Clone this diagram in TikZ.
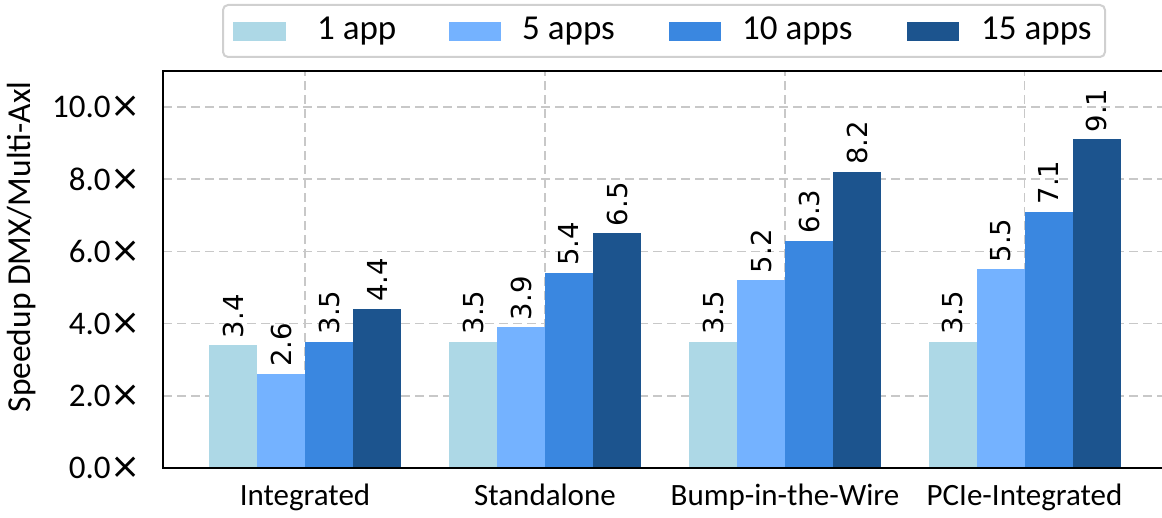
\documentclass[tikz,border=0pt]{standalone}
\usepackage{fontspec}
\setmainfont{Carlito}
\newfontfamily\dvs{DejaVu Sans}
\definecolor{cA}{HTML}{ADD8E6}
\definecolor{cB}{HTML}{74B2FF}
\definecolor{cC}{HTML}{3A87E0}
\definecolor{cD}{HTML}{1C548E}
\definecolor{gridc}{HTML}{C8C8C8}
\definecolor{legc}{HTML}{D0D0D0}
\begin{document}
\begin{tikzpicture}[x=1pt,y=1pt,
  gridline/.style={draw=gridc,line width=1.5pt,dash pattern=on 9pt off 5pt},
  spine/.style={draw=black,line width=2pt},
  vlab/.style={rotate=90,anchor=west,inner sep=0pt,font=\dvs\fontsize{27.5}{30}\selectfont},
  ytl/.style={anchor=east,inner sep=0pt,font=\fontsize{33}{36}\selectfont},
  xtl/.style={anchor=base,inner sep=0pt,font=\fontsize{31}{34}\selectfont},
  legtxt/.style={anchor=base west,inner sep=0pt,font=\fontsize{35}{38}\selectfont},
  legbox/.style={draw=legc,line width=2pt,fill=white,rounded corners=5pt}]
\useasboundingbox (0,0) rectangle (1162,517);
% grid
\foreach \v in {2,4,6,8,10} \draw[gridline] (163,{49+36.1*\v}) -- (1162,{49+36.1*\v});
\foreach \c in {305,545,785,1024.5} \draw[gridline] (\c,49) -- (\c,446);
% bars and value labels
\foreach \c/\a/\b/\cc/\d [count=\i] in {305/3.4/2.6/3.5/4.4, 545/3.5/3.9/5.4/6.5, 785/3.5/5.2/6.3/8.2, 1024.5/3.5/5.5/7.1/9.1}{
  \foreach \k/\v/\col in {0/\a/cA,1/\b/cB,2/\cc/cC,3/\d/cD}{
    \fill[\col] ({\c-96+48*\k},49) rectangle ({\c-48+48*\k},{49+36.1*\v});
    \node[vlab] (v\i\k) at ({\c-72+48*\k},{49+36.1*\v+7}) {\v};
  }
}
% spines
\draw[spine] (1162,446) -- (163,446) -- (163,49) -- (1162,49);
% y ticks
\foreach \v in {0,2,4,6,8,10} \node[ytl] (yt\v) at (141,{49+36.1*\v}) {\v.0{\dvs\fontsize{36}{38}\selectfont×}};
\node[rotate=90,inner sep=0pt,font=\fontsize{33.5}{36}\selectfont] (ylab) at (22,270) {Speedup DMX/Multi-Axl};
% x ticks
\node[xtl] (x1) at (305,12) {Integrated};
\node[xtl] (x2) at (545,12) {Standalone};
\node[xtl] (x3) at (785,12) {Bump-in-the-Wire};
\node[xtl] (x4) at (1024.5,12) {PCIe-Integrated};
% legend
\draw[legbox] (223,460) rectangle (1105,512);
\fill[cA] (233,476) rectangle (286,495);
\fill[cB] (449,476) rectangle (501,495);
\fill[cC] (669,476) rectangle (721,495);
\fill[cD] (907,476) rectangle (959,495);
\node[legtxt] (l1) at (317,477) {1 app};
\node[legtxt] (l2) at (522,477) {5 apps};
\node[legtxt] (l3) at (742,477) {10 apps};
\node[legtxt] (l4) at (981,477) {15 apps};
\end{tikzpicture}
\end{document}
